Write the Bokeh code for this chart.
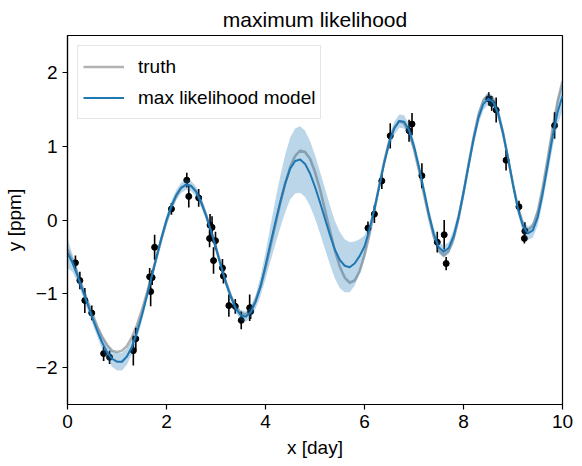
import numpy as np
from bokeh.plotting import figure
from bokeh.models import Legend, LegendItem, FixedTicker, Range1d
from bokeh.embed import file_html
from bokeh.resources import INLINE

# ---------------- data ----------------
t_grid = np.linspace(0, 10, 101)

truth_y = [-0.40, -0.55, -0.72, -0.91, -1.09, -1.27, -1.44, -1.58, -1.69, -1.77,
           -1.79, -1.77, -1.71, -1.59, -1.43, -1.23, -1.00, -0.75, -0.50, -0.25,
           -0.02, 0.18, 0.33, 0.44, 0.48, 0.46, 0.39, 0.25, 0.07, -0.14,
           -0.38, -0.61, -0.84, -1.03, -1.18, -1.26, -1.28, -1.22, -1.09, -0.90,
           -0.65, -0.36, -0.06, 0.23, 0.50, 0.72, 0.87, 0.94, 0.92, 0.83,
           0.65, 0.42, 0.14, -0.14, -0.41, -0.63, -0.78, -0.85, -0.82, -0.70,
           -0.48, -0.20, 0.13, 0.48, 0.80, 1.07, 1.25, 1.34, 1.31, 1.18,
           0.96, 0.67, 0.35, 0.04, -0.23, -0.41, -0.48, -0.42, -0.25, 0.02,
           0.37, 0.75, 1.11, 1.42, 1.62, 1.70, 1.64, 1.46, 1.18, 0.83,
           0.48, 0.17, -0.05, -0.14, -0.08, 0.12, 0.44, 0.83, 1.24, 1.61,
           1.88]

model_mu = [-0.45, -0.58, -0.75, -0.94, -1.13, -1.32, -1.50, -1.66, -1.79, -1.88,
            -1.92, -1.92, -1.85, -1.72, -1.53, -1.30, -1.04, -0.77, -0.50, -0.24,
            0.00, 0.19, 0.34, 0.44, 0.48, 0.46, 0.38, 0.24, 0.06, -0.15,
            -0.38, -0.62, -0.85, -1.04, -1.20, -1.29, -1.31, -1.25, -1.11, -0.90,
            -0.62, -0.32, -0.03, 0.25, 0.50, 0.70, 0.80, 0.82, 0.76, 0.63,
            0.45, 0.24, 0.02, -0.20, -0.40, -0.54, -0.62, -0.64, -0.59, -0.49,
            -0.36, -0.13, 0.15, 0.46, 0.78, 1.05, 1.24, 1.34, 1.33, 1.22,
            1.00, 0.72, 0.40, 0.08, -0.19, -0.37, -0.43, -0.38, -0.22, 0.04,
            0.37, 0.73, 1.08, 1.38, 1.57, 1.64, 1.60, 1.44, 1.17, 0.84,
            0.48, 0.15, -0.08, -0.18, -0.14, 0.04, 0.36, 0.74, 1.13, 1.46,
            1.68]

model_std = [0.20, 0.12, 0.09, 0.08, 0.08, 0.08, 0.08, 0.09, 0.10, 0.11,
             0.12, 0.12, 0.11, 0.10, 0.09, 0.08, 0.07, 0.07, 0.07, 0.07,
             0.07, 0.07, 0.07, 0.07, 0.07, 0.07, 0.07, 0.07, 0.06, 0.06,
             0.06, 0.06, 0.06, 0.06, 0.06, 0.07, 0.07, 0.07, 0.09, 0.13,
             0.18, 0.24, 0.30, 0.35, 0.39, 0.42, 0.44, 0.45, 0.45, 0.44,
             0.43, 0.42, 0.41, 0.40, 0.39, 0.38, 0.36, 0.34, 0.30, 0.23,
             0.15, 0.09, 0.07, 0.07, 0.07, 0.08, 0.09, 0.09, 0.09, 0.08,
             0.08, 0.08, 0.08, 0.08, 0.08, 0.08, 0.08, 0.08, 0.09, 0.09,
             0.09, 0.09, 0.09, 0.09, 0.08, 0.08, 0.08, 0.08, 0.08, 0.08,
             0.08, 0.08, 0.08, 0.09, 0.10, 0.11, 0.12, 0.13, 0.15, 0.17,
             0.20]

x_obs = [0.16, 0.25, 0.35, 0.49, 0.73, 0.85, 1.33, 1.38, 1.66, 1.68, 1.71, 1.76,
         2.10, 2.41, 2.45, 2.65, 2.87, 2.88, 2.92, 2.95, 2.99, 3.13, 3.15, 3.26,
         3.39, 3.51, 3.68, 3.70,
         6.07, 6.20, 6.35, 6.52, 6.90, 6.96, 7.16, 7.47, 7.61, 7.65,
         8.51, 8.57, 8.66, 8.86, 9.12, 9.23, 9.24, 9.84]
y_obs = [-0.58, -0.82, -1.09, -1.26, -1.81, -1.86, -1.77, -1.61, -0.77, -0.97, -0.78, -0.37,
         0.15, 0.54, 0.32, 0.30, -0.25, -0.07, -0.10, -0.55, -0.28, -0.65, -0.76, -1.16,
         -1.17, -1.36, -1.19, -1.24,
         -0.11, 0.08, 0.53, 1.14, 1.21, 1.30, 0.60, -0.30, -0.20, -0.59,
         1.64, 1.58, 1.49, 0.81, 0.18, -0.25, -0.15, 1.28]
yerr_obs = [0.10, 0.12, 0.17, 0.10, 0.10, 0.09, 0.20, 0.15, 0.12, 0.20, 0.10, 0.17,
            0.08, 0.10, 0.15, 0.12, 0.12, 0.15, 0.15, 0.18, 0.12, 0.12, 0.10, 0.15,
            0.10, 0.12, 0.18, 0.10,
            0.09, 0.12, 0.11, 0.17, 0.15, 0.15, 0.17, 0.14, 0.20, 0.09,
            0.09, 0.10, 0.17, 0.14, 0.08, 0.07, 0.12, 0.18]

x_ticks = [0, 2, 4, 6, 8, 10]
y_ticks = [-2, -1, 0, 1, 2]

# ---------------- figure ----------------
FONT = "Liberation Sans"
p = figure(width=582, height=466, output_backend="svg", toolbar_location=None,
           x_range=Range1d(0, 10), y_range=Range1d(-2.5, 2.5),
           min_border_left=66, min_border_right=20, min_border_top=35, min_border_bottom=62,
           title="maximum likelihood")
p.background_fill_color = "white"
p.border_fill_color = "white"
p.grid.visible = False
p.outline_line_color = "black"
p.outline_line_width = 1.2

p.title.text_font = FONT
p.title.text_font_size = "21px"
p.title.text_font_style = "normal"
p.title.align = "center"
p.title.text_color = "black"

for ax in (p.xaxis[0], p.yaxis[0]):
    ax.axis_line_color = "black"
    ax.axis_line_width = 1.2
    ax.major_tick_line_color = "black"
    ax.major_tick_line_width = 1.2
    ax.major_tick_out = 5
    ax.major_tick_in = 0
    ax.minor_tick_line_color = None
    ax.major_label_text_font = FONT
    ax.major_label_text_font_size = "19px"
    ax.major_label_text_color = "black"
    ax.axis_label_text_font = FONT
    ax.axis_label_text_font_size = "19px"
    ax.axis_label_text_font_style = "normal"
    ax.axis_label_text_color = "black"
    ax.major_label_standoff = 5

p.xaxis.ticker = FixedTicker(ticks=x_ticks)
p.yaxis.ticker = FixedTicker(ticks=y_ticks)
p.yaxis.major_label_overrides = {v: (str(v).replace("-", "\u2212")) for v in y_ticks}
p.xaxis.axis_label = "x [day]"
p.yaxis.axis_label = "y [ppm]"
p.xaxis.axis_label_standoff = 6
p.yaxis.axis_label_standoff = 8

mu = np.array(model_mu)
sd = np.array(model_std)

r_truth = p.line(t_grid, truth_y, line_color="black", line_alpha=0.3, line_width=2.6,
                 line_join="round")
p.segment(x0=x_obs, y0=np.array(y_obs) - np.array(yerr_obs),
          x1=x_obs, y1=np.array(y_obs) + np.array(yerr_obs),
          line_color="black", line_width=1.6)
p.scatter(x_obs, y_obs, size=6, color="black")
r_model = p.line(t_grid, mu, line_color="#1f77b4", line_width=2, line_join="round")
p.varea(x=t_grid, y1=mu - sd, y2=mu + sd, fill_color="#1f77b4", fill_alpha=0.3)

legend = Legend(items=[LegendItem(label="truth", renderers=[r_truth]),
                       LegendItem(label="max likelihood model", renderers=[r_model])],
                location="top_left")
legend.margin = 10
legend.padding = 5
legend.spacing = 0
legend.glyph_width = 41
legend.glyph_height = 31
legend.label_height = 31
legend.label_standoff = 14
legend.label_text_font = FONT
legend.label_text_font_size = "19px"
legend.label_text_color = "black"
legend.border_line_color = "#cccccc"
legend.border_line_width = 1
legend.background_fill_alpha = 0.8
p.add_layout(legend, "center")

open("out.html", "w").write(file_html(p, INLINE))
